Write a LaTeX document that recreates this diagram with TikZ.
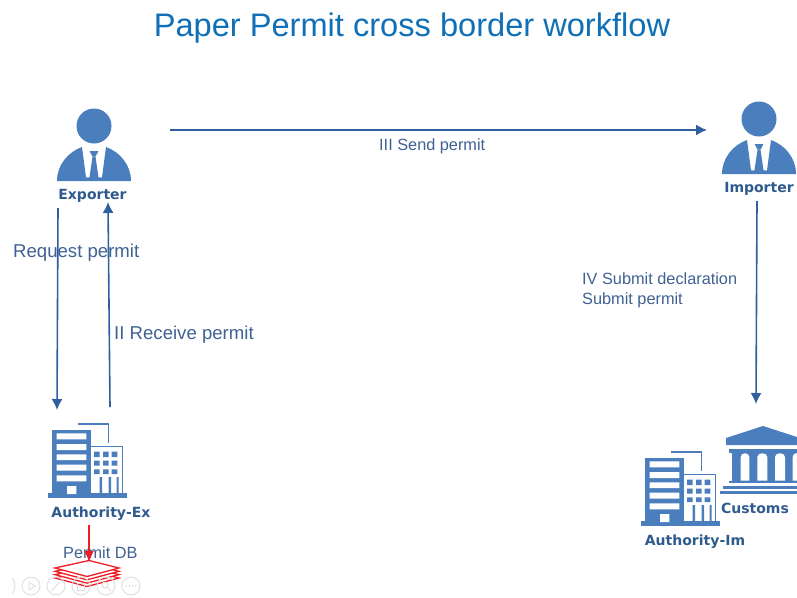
\documentclass[tikz,border=0pt]{standalone}
\usepackage{fontspec}
\setmainfont{Liberation Sans}
\newfontfamily\iconfont{DejaVu Sans}
\usetikzlibrary{positioning,arrows.meta,calc}
\definecolor{iconblue}{HTML}{4A7EBD}
\definecolor{labelblue}{HTML}{2F5A8E}
\definecolor{textblue}{HTML}{3F6193}
\definecolor{titleblue}{HTML}{0F6FB7}
\definecolor{flowblue}{HTML}{2F5F9E}
\definecolor{stackred}{HTML}{EE1C25}
\tikzset{
	pics/person/.style = {code = {
		\fill[iconblue] (0,-55) circle (17.5pt);
		\fill[iconblue] (-37,0) .. controls (-37,-16) and (-26,-29) .. (-12,-34) -- (-8,-3.7) -- (8,-3.7) -- (12,-34) .. controls (26,-29) and (37,-16) .. (37,0) -- cycle;
		\fill[iconblue] (-4.4,-30) -- (4.4,-30) -- (1.5,-24.3) -- (-1.5,-24.3) -- cycle;
		\fill[iconblue] (-1.5,-24.3) -- (1.5,-24.3) -- (4.6,-3) -- (-4.6,-3) -- cycle;
	}},
	pics/office/.style = {code = {
		\fill[iconblue] (0,0) rectangle (79,-5);
		\fill[iconblue] (3.7,-4) rectangle (43.3,-68);
		\fill[white] (8.7,-64.7) rectangle (38.3,-58.7) (8.7,-54) rectangle (38.3,-48) (8.7,-43.7) rectangle (38.3,-38) (8.7,-33.3) rectangle (38.3,-27.3) (8.7,-22.7) rectangle (38.3,-16.7) (19,-12) rectangle (28.3,-4);
		\draw[iconblue, line width=1.8pt] (43.3,-51.5) -- (74.5,-51.5) -- (74.5,-4);
		\fill[iconblue] (46,-46.3) rectangle (51.7,-41) (55,-46.3) rectangle (60.7,-41) (63.7,-46.3) rectangle (69.3,-41);
		\fill[iconblue] (46,-37.3) rectangle (51.7,-32.3) (55,-37.3) rectangle (60.7,-32.3) (63.7,-37.3) rectangle (69.3,-32.3);
		\fill[iconblue] (46,-28.7) rectangle (51.7,-24) (55,-28.7) rectangle (60.7,-24) (63.7,-28.7) rectangle (69.3,-24);
		\fill[iconblue] (51.7,-21) rectangle (54,-4) (60.7,-21) rectangle (63,-4) (68.5,-21) rectangle (70.5,-4);
		\draw[iconblue, line width=1.6pt] (30,-74) -- (60.3,-74) -- (60.3,-54.7);
	}},
	pics/bank/.style = {code = {
		\fill[iconblue] (6,-50) -- (6,-57) -- (43,-69) -- (80,-57) -- (80,-50) -- cycle;
		\fill[iconblue] (9,-46) rectangle (80,-42);
		\fill[iconblue] (12,-42) rectangle (80,-14);
		\fill[white] (20.7,-14.5) -- (20.7,-38) .. controls (20.7,-43) and (29.3,-43) .. (29.3,-38) -- (29.3,-14.5) -- cycle;
		\fill[white] (37.3,-14.5) -- (37.3,-38) .. controls (37.3,-43) and (47.3,-43) .. (47.3,-38) -- (47.3,-14.5) -- cycle;
		\fill[white] (55,-14.5) -- (55,-38) .. controls (55,-43) and (65,-43) .. (65,-38) -- (65,-14.5) -- cycle;
		\fill[white] (72.7,-14.5) -- (72.7,-38) .. controls (72.7,-43) and (80,-43) .. (80,-38) -- (80,-14.5) -- cycle;
		\fill[iconblue] (9,-14.3) rectangle (80,-11.7);
		\fill[iconblue] (3,-9) rectangle (80,-5.7);
		\fill[iconblue] (0,-3.7) rectangle (80,-0.7);
	}},
	pics/sheet/.style = {code = {
		\draw[stackred, fill=white, line width=1.3pt] (-34,0) -- (0,-7.5) -- (30,0) -- (-2,8.5) -- cycle;
	}}
}
\begin{document}
\begin{tikzpicture}[x=1pt, y=-1pt,
	title/.style = {text=titleblue, font=\fontsize{32.6}{36}\selectfont, inner sep=0},
	tag/.style = {text=labelblue, font=\iconfont\bfseries\fontsize{14}{15}\selectfont, inner sep=0, text height=10pt, text depth=3pt},
	say/.style = {text=textblue, font=\fontsize{16.3}{20}\selectfont, inner sep=0, anchor=west, align=left},
	saybig/.style = {say, font=\fontsize{18.6}{20}\selectfont},
	flow/.style = {draw=flowblue, line width=1.6pt, -{Latex[length=11pt, width=11pt]}},
	redflow/.style = {draw=stackred, line width=1.6pt, -{Latex[length=11pt, width=10pt]}},
	tool/.style = {draw=black!13, line width=0.9pt}]
	\useasboundingbox (0,0) rectangle (797,597);

	\node[title] (head) at (412,28) {Paper Permit cross border workflow};

	\coordinate (exporter) at (94,181);
	\coordinate (importer) at (759,174);
	\coordinate (authex) at (48,498);
	\coordinate (authim) at (641,526);
	\coordinate (customs) at (720,495);
	\coordinate (db) at (89,568);

	\pic at (exporter) {person};
	\pic at (importer) {person};
	\pic at (authex) {office};
	\pic at (authim) {office};
	\pic at (customs) {bank};

	\node[tag] (exporterlabel) [below=8pt of exporter, xshift=-1.5pt] {Exporter};
	\node[tag] (importerlabel) [below=8pt of importer] {Importer};
	\node[tag] (authexlabel) at (101,514) {Authority-Ex};
	\node[tag] (authimlabel) at (695,542) {Authority-Im};
	\node[tag] (customslabel) at (755,510) {Customs};

	\node[saybig] (request) at (13,253) {Request permit};
	\node[saybig] (receive) at (114,335) {II Receive permit};
	\node[say] (send) at (379,146) {III Send permit};
	\node[say] (submit) at (582,290) {IV Submit declaration\\Submit permit};
	\node[say] (dblabel) at (63,553) {Permit DB};

	\pic at ($(db)+(0,10)$) {sheet};
	\pic at ($(db)+(0,6.6)$) {sheet};
	\pic at ($(db)+(0,3.3)$) {sheet};
	\pic at (db) {sheet};

	\coordinate (sendstart) at (170,130);
	\coordinate (sendend) at (707,130);
	\coordinate (requeststart) at (58,208);
	\coordinate (requestend) at (57,410);
	\coordinate (receivestart) at (110,407);
	\coordinate (receiveend) at (108,202);
	\coordinate (submitstart) at (757,201);
	\coordinate (submitend) at (756,404);
	\coordinate (redstart) at (89,525);
	\coordinate (redend) at (89,562);

	\path (sendstart) edge [flow] (sendend)
		(requeststart) edge [flow] (requestend)
		(receivestart) edge [flow] (receiveend)
		(submitstart) edge [flow] (submitend)
		(redstart) edge [redflow] (redend);

	\draw[tool] (12,578) .. controls (16,582) and (16,590) .. (12,594);
	\draw[tool] (31,586) circle (9pt) (56,586) circle (9pt) (81,586) circle (9pt) (106,586) circle (9pt) (131,586) circle (9pt);
	\draw[tool] (29,582) -- (35,586) -- (29,590) -- cycle;
	\draw[tool] (51,591) -- (60,582);
	\draw[tool] (77,583) rectangle (84,590);
	\draw[tool] (105,585) circle (3pt) (107,587) -- (111,591);
	\draw[tool, dotted, line width=1.6pt] (126,586) -- (136,586);
\end{tikzpicture}
\end{document}
